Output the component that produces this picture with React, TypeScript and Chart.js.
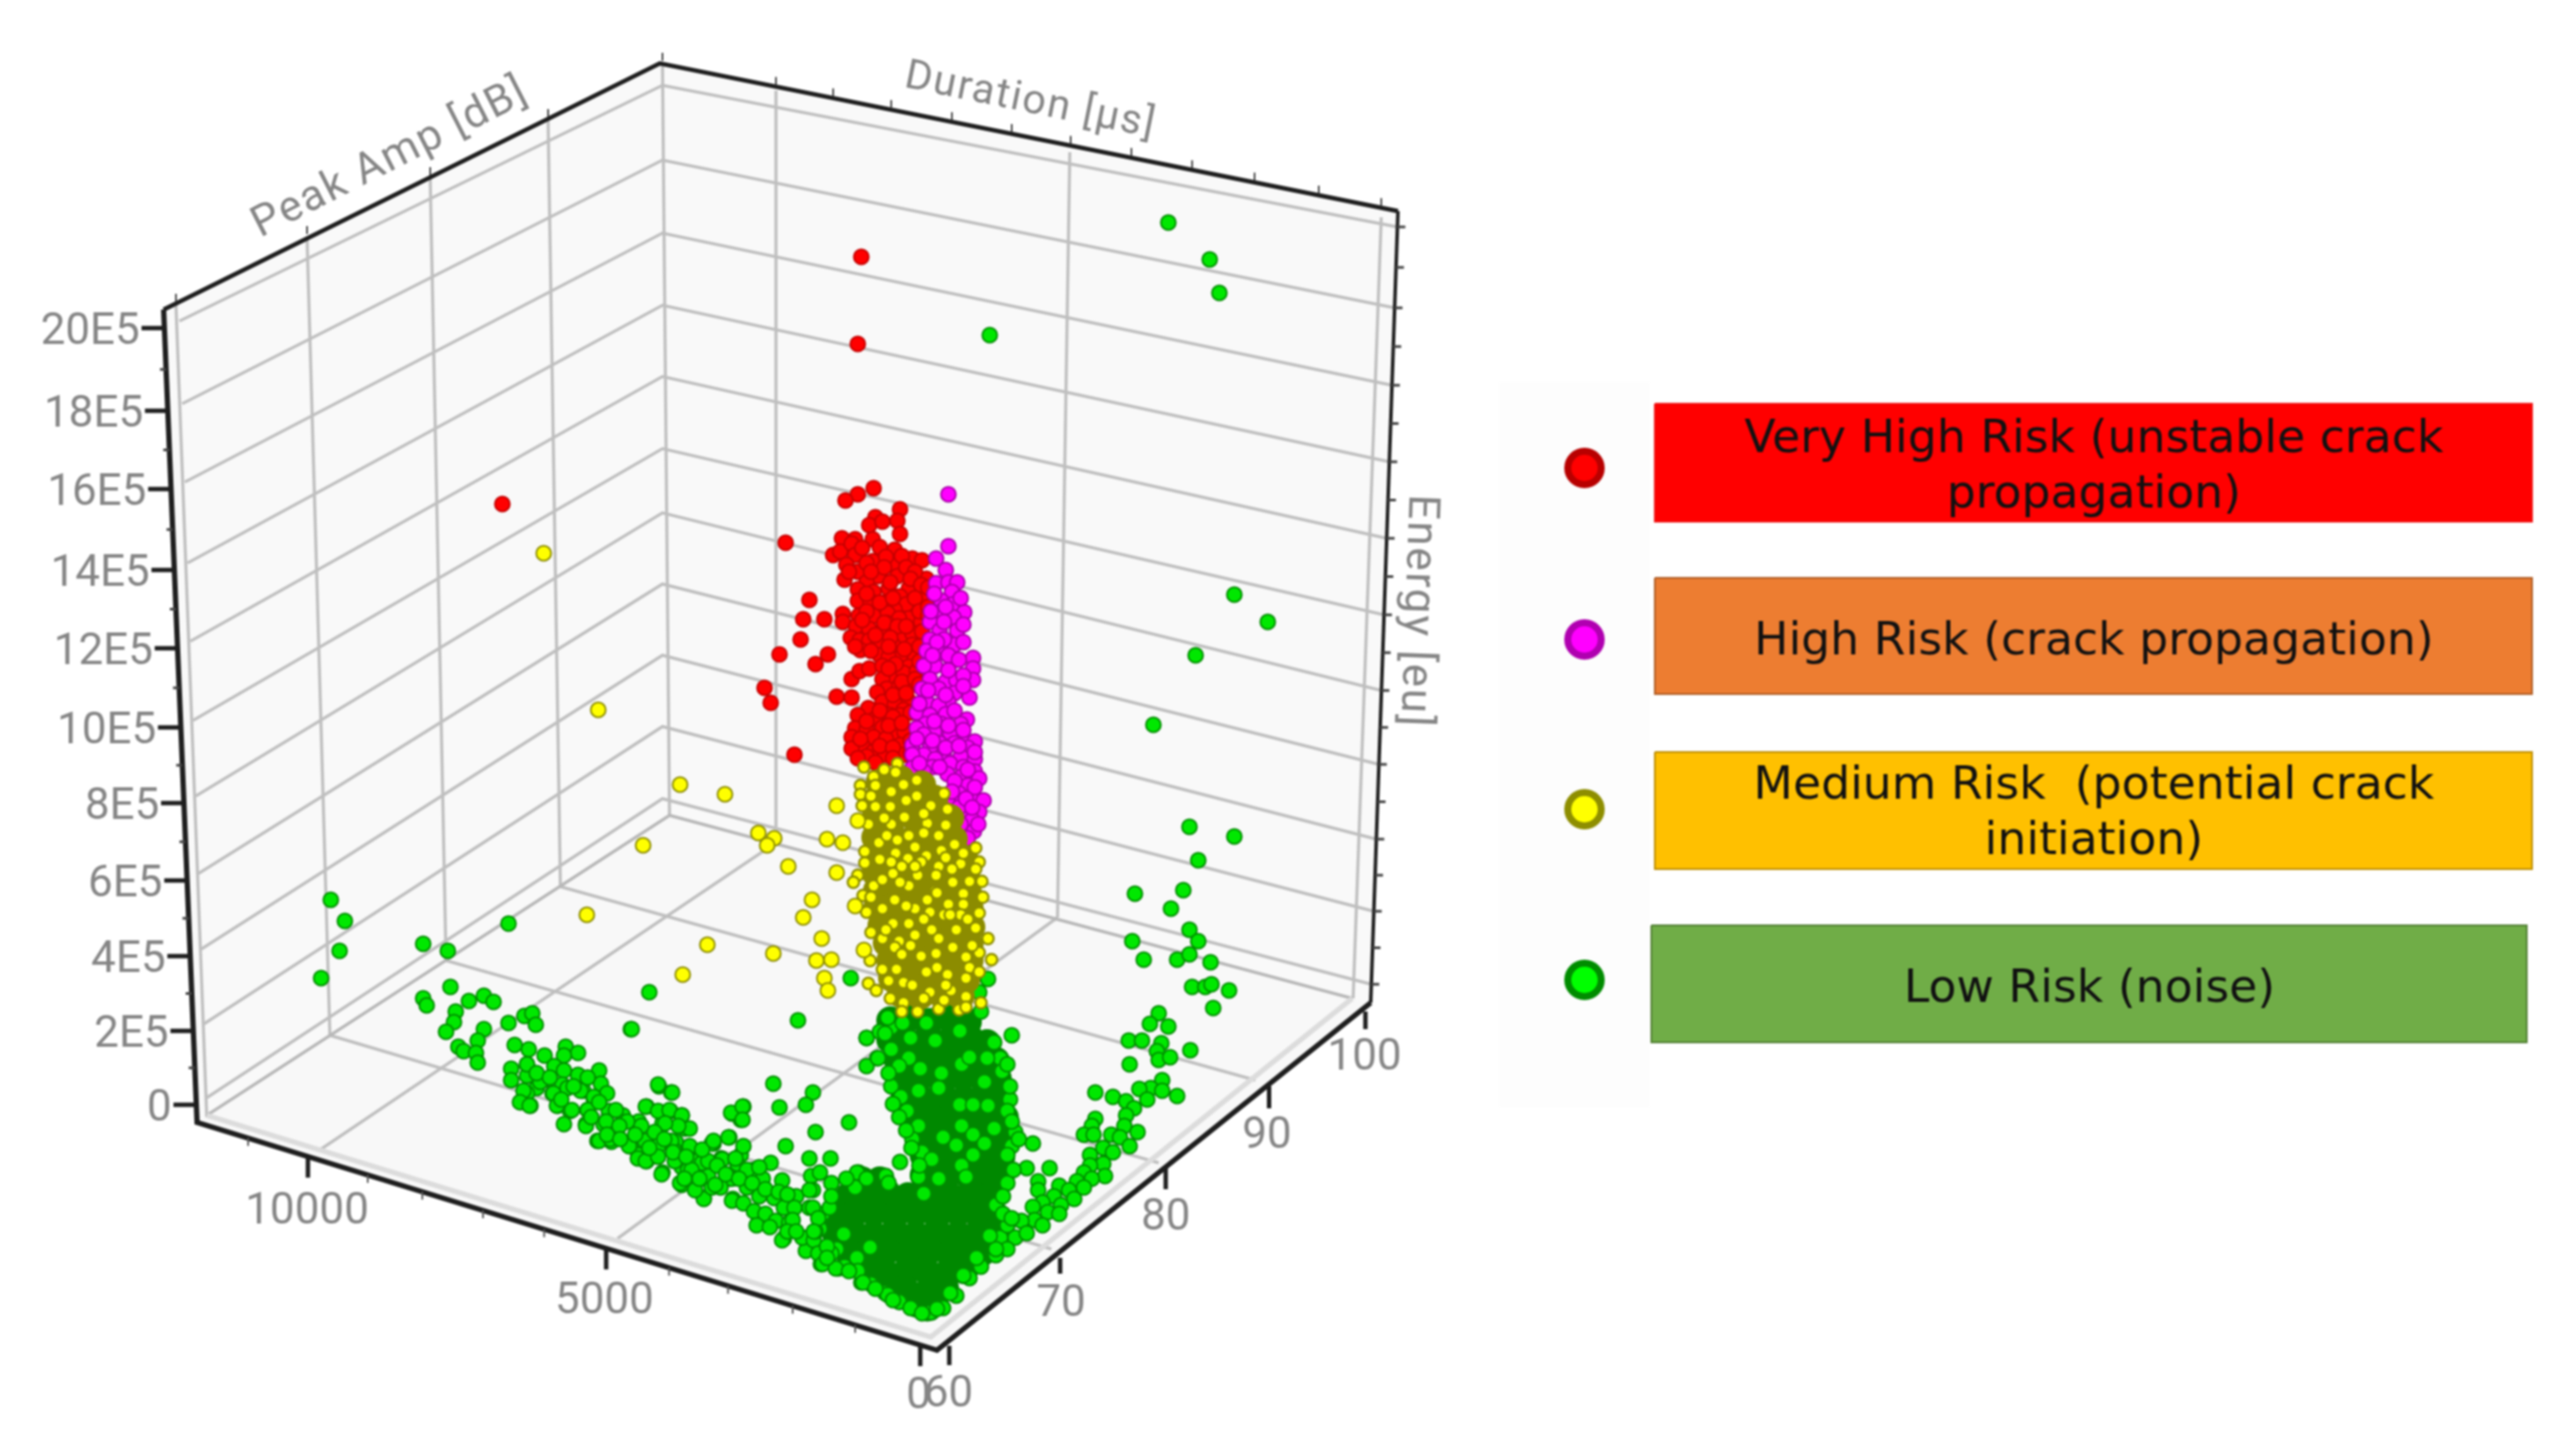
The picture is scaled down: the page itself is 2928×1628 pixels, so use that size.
import React, { useEffect, useRef } from "react";
import { Chart, registerables } from "chart.js";

Chart.register(...registerables);

const W = 2928;
const H = 1628;

// Scatter values on the projected plane of the 3D view (x, y pairs).
const veryHighRisk = [979,292,975,391,571,573,993,555,975,562,961,569,893,617,920,682,913,704,937,704,958,698,958,707,910,727,886,744,941,744,927,755,869,782,876,799,968,772,977,763,988,760,951,792,968,793,903,858,
1023,579,1020,592,995,588,988,597,1003,593,1023,607,957,612,972,613,992,613,947,631,955,627,968,618,1000,622,1017,625,972,631,992,638,962,642,1017,642,1037,635,1048,637,1025,632,980,623,1007,633,960,659,975,650,998,655,1020,655,1053,658,985,662,975,670,1010,669,1033,669,993,673,1052,678,1023,678,975,683,989,683,1006,685,1043,693,1030,687,1017,693,976,700,993,700,1009,697,1033,703,1022,703,1047,707,973,712,988,715,1008,708,1000,720,1023,724,1037,720,967,725,977,728,988,728,1007,722,998,732,1015,733,1037,733,978,739,1000,745,1023,748,1040,748,1010,747,1003,757,1033,758,1015,768,1027,765,1042,763,1003,772,1008,783,1022,780,1035,778,997,787,1003,798,1017,800,1033,797,987,805,1027,807,975,813,995,817,1012,813,1023,813,972,828,985,830,1003,827,1017,837,1028,832,968,838,993,838,1007,840,980,847,1023,847,968,851,992,855,1006,858,1027,858,985,860,995,867,
985,640,1005,645,1030,645,965,650,990,650,1040,650,1012,662,1035,658,1047,665,985,675,1000,685,1015,680,1040,680,1055,668,985,695,1005,708,1020,712,1045,695,1055,690,1055,700,980,705,995,722,1012,725,1030,712,1048,718,972,735,990,740,1010,735,1028,738,1045,735,1018,755,1045,752,1010,760,1025,775,1040,772,1015,790,1030,788,1045,778,1000,808,1015,815,1035,810,985,820,1010,825,1025,822,978,840,1000,848,1015,850,1035,842,975,862,1015,862,1035,856];

const highRisk = [1078,562,1078,621,1064,635,1075,648,1064,663,1078,662,1088,662,1082,673,1070,683,1083,687,1096,696,1070,695,1057,707,1084,702,1068,717,1088,717,1073,707,1057,727,1085,733,1067,742,1082,752,1053,740,1073,727,1063,757,1050,757,1106,748,1106,760,1106,773,1075,775,1057,772,1087,773,1067,783,1102,793,1048,783,1085,788,1053,797,1078,798,1067,802,1042,810,1075,812,1057,813,1099,818,1092,823,1070,823,1052,823,1042,828,1062,832,1093,837,1080,833,1050,835,1108,843,1068,845,1085,845,1037,847,1057,850,1100,850,1050,858,1073,858,1037,858,1063,863,1092,860,1108,863,1080,868,1095,872,1060,872,1037,873,1050,877,1108,877,1077,880,1113,885,1093,883,1100,893,1090,902,1105,905,1118,910,1077,912,1098,920,1113,923,1090,918,1105,932,1092,937,1107,945,1100,953,1112,937,
1062,675,1075,690,1092,680,1058,695,1095,710,1065,730,1060,745,1078,745,1095,730,1090,750,1078,762,1095,768,1055,785,1075,790,1095,780,1045,800,1062,820,1085,808,1042,840,1060,842,1078,825,1095,830,1075,850,1108,855,1090,848,1045,868,1068,872,1085,888,1100,875,1108,895,1098,908,1082,900,1105,918];

const mediumRiskDense = [1000,890,1024,886,1048,892,995,910,1014,908,1038,912,1062,908,995,930,1014,932,1038,928,1062,932,1080,930,995,952,1014,950,1038,954,1062,950,1084,954,995,972,1014,974,1038,970,1062,974,1086,970,1096,976,995,992,1014,990,1038,994,1062,990,1086,994,1098,992,997,1012,1016,1014,1040,1010,1064,1014,1088,1010,1100,1014,997,1032,1016,1030,1040,1034,1064,1030,1088,1034,1102,1032,1002,1052,1022,1054,1046,1050,1070,1054,1094,1050,1104,1054,1008,1072,1030,1070,1054,1074,1078,1070,1102,1074,1012,1092,1034,1094,1058,1090,1082,1094,1102,1092,1014,1112,1036,1110,1060,1114,1084,1110,1098,1114,1024,1130,1046,1132,1070,1130,1092,1132];

const mediumRiskOutliers = [618,629,680,807,951,916,940,954,958,958,975,933,880,953,872,961,862,947,896,985,951,992,923,1023,913,1043,934,1067,879,1084,928,1092,945,1091,937,1112,941,1126,982,1080,972,1030,773,892,824,903,731,961,667,1040,804,1074,776,1108];

const mediumRisk = [982,872,1005,875,1020,868,1018,878,993,883,978,893,978,903,995,893,1013,900,1042,887,1027,892,980,916,995,917,1012,917,1042,905,1058,916,1073,902,1077,920,1028,929,987,937,1013,937,1054,936,1075,938,999,958,1050,947,1033,950,1067,950,1085,960,1109,964,983,968,1018,970,1070,967,1032,976,1000,977,983,981,1053,973,1092,982,1113,980,1067,985,1109,988,1082,988,975,995,1015,993,1043,995,1064,995,970,1003,1102,1002,1116,1002,993,1007,1063,1013,1033,1007,1095,1016,981,1018,1017,1023,1054,1023,1078,1028,1095,1028,985,1037,1040,1033,1003,1033,1092,1040,1073,1040,1113,1038,990,1060,1015,1050,1059,1057,1109,1055,1003,1067,1022,1070,1123,1067,1040,1063,1083,1077,1064,1084,1098,1088,1113,1083,989,1092,1127,1091,1019,1102,1003,1102,1102,1100,1053,1105,1113,1105,1077,1108,987,1118,1098,1112,996,1126,1057,1128,1081,1126,1027,1117,1012,1135,1098,1133,1043,1150,1115,1140,1090,1148,1027,1140,1067,1147,1073,1137,1037,1120,1007,1057,1047,1087,1017,1077,1087,1057,1067,1067,1057,1037,1033,1050,1003,1000,1023,1003,1083,1003,1047,980,1008,950,1013,980,1040,963,
990,905,1005,930,1030,910,1050,925,1020,955,1040,985,1075,975,1095,970,1025,985,990,1020,1030,1030,1065,1015,1080,1040,1100,1045,1050,1045,1025,1085,1065,1100,1010,1115,1050,1135,1075,1120,1105,1075,1035,1075,1117,1020,1025,1150,1098,1145];

const lowRiskDense = [1012,1160,1032,1158,1056,1162,1080,1158,1100,1162,1012,1182,1030,1184,1054,1180,1078,1184,1102,1180,1122,1186,1020,1204,1040,1206,1064,1202,1088,1206,1112,1202,1132,1206,1024,1226,1046,1224,1070,1228,1094,1224,1118,1228,1134,1226,1028,1248,1048,1250,1072,1246,1096,1250,1120,1246,1136,1250,1036,1270,1056,1268,1080,1272,1104,1268,1128,1272,1142,1270,1044,1292,1064,1294,1088,1290,1112,1294,1136,1290,1146,1294,1050,1314,1070,1312,1094,1316,1118,1312,1138,1316,980,1342,1000,1342,1050,1336,1074,1338,1098,1334,1122,1338,1138,1336,965,1360,984,1360,1008,1356,1032,1360,1056,1356,1080,1360,1104,1356,1125,1360,950,1380,969,1382,993,1378,1017,1382,1041,1378,1065,1382,1089,1378,1113,1382,1130,1380,950,1402,969,1400,993,1404,1017,1400,1041,1404,1065,1400,1089,1404,1113,1400,1130,1402,965,1424,984,1426,1008,1422,1032,1426,1056,1422,1080,1426,1104,1422,1116,1424,985,1444,1004,1444,1028,1448,1052,1444,1076,1448,1096,1444,1012,1464,1029,1466,1053,1470,1074,1464,1042,1482,1060,1480];

const lowRisk = [1328,253,1375,295,1386,333,1125,381,1403,676,1441,707,1359,745,1311,824,1352,940,1403,951,1362,978,1290,1016,1345,1012,1331,1033,1352,1057,1362,1070,1287,1070,1300,1091,1338,1091,1352,1085,1376,1094,1355,1122,1370,1122,1377,1119,1397,1126,1379,1146,1317,1152,1307,1164,1328,1167,1283,1183,1298,1183,1320,1186,1315,1195,1353,1194,
1317,1205,1330,1202,1284,1210,1321,1228,1308,1237,1295,1238,1321,1240,1338,1246,1245,1242,1265,1247,1280,1252,1304,1250,1289,1260,1280,1268,1245,1272,1278,1280,1293,1287,1241,1280,1263,1290,1232,1290,1243,1290,1273,1293,1284,1303,1254,1305,1265,1310,1239,1313,1254,1323,1239,1325,1232,1333,1256,1337,1241,1340,1224,1343,1204,1348,1180,1343,1193,1328,1167,1328,1174,1300,1150,1177,1180,1353,1232,1350,1215,1353,1198,1360,1221,1363,1185,1367,1206,1370,1174,1372,1191,1378,1204,1380,1176,1387,1161,1388,1185,1393,1154,1407,1167,1402,1137,1407,1145,1420,1132,1427,1115,1440,1102,1453,1087,1473,1072,1487,1059,1492,
717,1170,907,1160,879,1232,924,1242,886,1259,916,1256,965,1276,927,1287,893,1303,920,1317,944,1317,1023,1321,1044,1338,832,1266,845,1258,842,1273,749,1235,763,1242,922,1337,932,1333,945,1345,924,1353,976,1333,1006,1337,985,1180,997,1203,985,1212,1014,1235,
376,1023,392,1047,386,1081,365,1112,481,1073,509,1081,578,1050,738,1128,718,1170,512,1122,481,1135,485,1143,533,1138,550,1132,561,1139,518,1150,516,1162,507,1173,550,1170,543,1183,521,1190,527,1195,541,1197,543,1208,578,1163,596,1155,605,1152,609,1165,585,1188,601,1193,619,1200,643,1190,657,1197,641,1200,581,1215,581,1228,599,1210,630,1212,657,1222,599,1223,619,1227,641,1217,681,1217,610,1237,639,1233,683,1232,599,1243,592,1253,603,1257,628,1243,663,1240,690,1243,634,1257,675,1250,648,1263,668,1262,641,1278,666,1278,692,1263,748,1233,764,1242,708,1268,686,1278,735,1258,762,1263,831,1265,844,1258,844,1273,775,1268,726,1275,753,1277,779,1283,679,1297,695,1298,717,1303,744,1293,768,1298,735,1320,726,1313,753,1333,766,1307,784,1305,811,1300,829,1293,775,1327,793,1320,820,1317,842,1313,775,1347,802,1340,829,1340,800,1362,833,1363,
752,1335,800,1363,790,1353,809,1350,805,1337,782,1330,798,1322,784,1303,809,1300,828,1293,845,1303,821,1318,838,1323,832,1340,819,1350,832,1365,845,1368,857,1330,876,1322,867,1340,889,1342,849,1350,863,1360,880,1362,857,1377,870,1380,891,1373,905,1360,920,1353,903,1373,920,1373,882,1388,897,1390,891,1408,914,1407,916,1422,932,1397,933,1437,953,1442,979,1458,1006,1470,1023,1480,1054,1493,935,1380,951,1420,974,1430,
599,1210,614,1230,629,1243,645,1237,660,1240,675,1247,595,1240,591,1253,602,1257,633,1257,650,1262,668,1262,666,1280,681,1253,700,1262,713,1275,689,1275,681,1297,694,1295,704,1280,715,1303,725,1317,734,1320,733,1297,734,1258,748,1263,761,1262,775,1268,784,1283,771,1280,756,1277,744,1287,729,1280,748,1303,763,1297,748,1315,767,1320,773,1345,813,1347,786,1330,805,1320,798,1307,811,1297,836,1317,849,1330,863,1327,901,1387,889,1410,912,1407,924,1373,943,1373,
610,1220,625,1225,638,1250,652,1235,668,1225,672,1270,690,1290,705,1295,722,1290,738,1305,755,1295,765,1310,780,1315,795,1340,778,1340,815,1325,825,1335,840,1340,855,1345,870,1352,885,1355,895,1358,860,1393,875,1395,895,1400,905,1400,925,1410,930,1425,945,1425,960,1440,975,1445,990,1460,
985,1180,1000,1173,1013,1168,1009,1157,1026,1163,1054,1162,1091,1172,1035,1180,1063,1183,1013,1193,1033,1203,998,1203,1022,1212,1046,1215,1070,1220,1093,1210,1137,1203,1102,1202,1122,1203,1139,1218,1013,1235,1044,1240,1024,1247,1119,1230,1067,1237,1091,1256,1106,1256,1123,1257,1031,1263,1148,1250,1145,1263,1093,1280,1130,1283,1044,1280,1154,1287,1072,1293,1106,1290,1037,1295,1087,1302,1119,1300,1150,1303,1048,1310,1059,1318,1106,1313,1093,1325,1145,1313,1098,1338,1145,1345,974,1333,1007,1337,972,1350,1067,1340,1132,1370,1050,1357,
935,1437,950,1442,981,1458,1009,1472,1022,1480,1035,1487,1058,1492,1048,1493,927,1400,940,1417,959,1403,989,1418,1145,1393,1132,1420,967,1112,1113,1128,1123,1113,1053,1163,
1006,1175,1010,1220,1015,1255,1022,1270,1030,1285,1036,1305,1045,1325,1115,1150,1130,1185,1145,1210,1148,1235,1150,1275,1158,1295,1152,1330,1140,1360,962,1340,985,1340,1010,1345,945,1360,930,1385,925,1400,940,1430,965,1445,995,1465,1015,1478,1140,1380,1125,1405,1110,1430,1095,1450,1080,1470,1065,1488,1150,1385];

// Axis values and labels
const energyLabels = ["0", "2E5", "4E5", "6E5", "8E5", "10E5", "12E5", "14E5", "16E5", "18E5", "20E5"];
const durationLabels = ["0", "5000", "10000"];
const ampLabels = ["60", "70", "80", "90", "100"];
const legendNames = [
  ["Very High Risk (unstable crack", "propagation)"],
  ["High Risk (crack propagation)"],
  ["Medium Risk  (potential crack", "initiation)"],
  ["Low Risk (noise)"],
];

// Geometry of the 3D box on the projected plane
const energyTickY = [1256, 1172, 1087, 1001, 913, 827, 737, 648, 556, 467, 373];
const wallLeftY = [1248, 1164, 1079, 993, 905, 819, 729, 640, 548, 459, 365];
const wallBackY = [908, 826, 745, 664, 583, 510, 428, 347, 265, 182, 97];
const wallRightY = [1119, 1036, 954, 869, 785, 699, 612, 525, 438, 350, 258];
const leftVerticals = [[200, 347, 235, 1270], [349, 270, 375, 1177], [489, 203, 507, 1092], [623, 137, 637, 1008], [753, 73, 761, 927]];
const rightVerticals = [[882, 103, 882, 940], [1216, 173, 1202, 1043], [1570, 247, 1538, 1135]];
const floorLines = [[375, 1177, 1195, 1420], [507, 1092, 1317, 1322], [637, 1008, 1427, 1228], [702, 1408, 1202, 1043], [364, 1307, 882, 958]];
const durationTopTicks = [882, 947, 1013, 1082, 1150, 1217, 1286, 1355, 1426, 1499, 1570];
const durationBottomTicks = [1046, 972, 901, 827.5, 760.5, 689, 618.5, 549, 480, 418, 350, 282];
const ampBottomTicks = [[1079, 1530, 1552], [1205, 1430, 1448], [1325, 1327, 1352], [1442.5, 1235, 1260], [1552, 1150, 1170]];

const toPoints = (flat: number[]) => {
  const out: { x: number; y: number }[] = [];
  for (let i = 0; i < flat.length; i += 2) out.push({ x: flat[i], y: flat[i + 1] });
  return out;
};

const boxPlugin = {
  id: "box3d",
  beforeDatasetsDraw(chart: any) {
    const { ctx, scales } = chart;
    const px = (x: number) => scales.x.getPixelForValue(x);
    const py = (y: number) => scales.y.getPixelForValue(y);
    const poly = (pts: number[][], fill: string) => {
      ctx.beginPath();
      pts.forEach((p, i) => (i ? ctx.lineTo(px(p[0]), py(p[1])) : ctx.moveTo(px(p[0]), py(p[1]))));
      ctx.closePath();
      ctx.fillStyle = fill;
      ctx.fill();
    };
    const line = (pts: number[][], color: string, width: number) => {
      ctx.beginPath();
      pts.forEach((p, i) => (i ? ctx.lineTo(px(p[0]), py(p[1])) : ctx.moveTo(px(p[0]), py(p[1]))));
      ctx.strokeStyle = color;
      ctx.lineWidth = width;
      ctx.lineJoin = "miter";
      ctx.stroke();
    };
    const text = (s: string, x: number, y: number, font: string, color: string, align: any = "center", rot = 0, spacing = "0px") => {
      ctx.save();
      ctx.translate(px(x), py(y));
      ctx.rotate((rot * Math.PI) / 180);
      ctx.font = font;
      ctx.fillStyle = color;
      ctx.textAlign = align;
      ctx.textBaseline = "middle";
      ctx.letterSpacing = spacing;
      ctx.fillText(s, 0, 0);
      ctx.restore();
    };

    // walls and floor
    poly([[186, 352], [750, 72], [761, 927], [224, 1276]], "#f9f9f9");
    poly([[750, 72], [1589, 240], [1558, 1140], [761, 927]], "#f9f9f9");
    poly([[224, 1276], [761, 927], [1558, 1140], [1065, 1535]], "#f8f8f8");

    const GRID = "#bfbfbf";
    // energy grid lines on both walls
    energyLabels.forEach((_, i) => {
      const t = i / 10;
      const lx = 235 - 31 * t;
      const ry = wallRightY[i];
      const rx = 1558 + ((1140 - ry) * 31) / 900;
      line([[lx, wallLeftY[i]], [753, wallBackY[i]], [rx, ry]], GRID, 3.5);
    });
    leftVerticals.forEach((v) => line([[v[0], v[1]], [v[2], v[3]]], GRID, 3.5));
    rightVerticals.forEach((v) => line([[v[0], v[1]], [v[2], v[3]]], GRID, 3.5));
    floorLines.forEach((v) => line([[v[0], v[1]], [v[2], v[3]]], GRID, 3.5));
    // floor border
    line([[235, 1268], [761, 927], [1537, 1135]], "#b8b8b8", 3.5);
    line([[235, 1268], [1058, 1520], [1537, 1135]], "#dcdcdc", 6);

    // black frame
    line([[186, 352], [750, 72], [1589, 240]], "#1e1e1e", 5);
    line([[1589, 240], [1558, 1140]], "#1e1e1e", 4);
    line([[186, 352], [224, 1276], [1065, 1535], [1558, 1140]], "#1e1e1e", 6);

    // energy ticks
    const axisX = (y: number) => 186 + ((y - 352) * 38) / 924;
    energyTickY.forEach((y, i) => {
      line([[axisX(y) - 26, y], [axisX(y), y]], "#1e1e1e", 5);
      text(energyLabels[i], axisX(y) - 28, y + 5, "50px Roboto", "#858585", "right");
      if (i < 10) {
        const m = (y + energyTickY[i + 1]) / 2;
        line([[axisX(m) - 7, m], [axisX(m), m]], "#444444", 3);
      }
    });
    // right-edge ticks
    wallRightY.forEach((y, i) => {
      const x = 1558 + ((1140 - y) * 31) / 900;
      line([[x, y], [x + 9, y]], "#444444", 3);
      if (i < 10) {
        const m = (y + wallRightY[i + 1]) / 2;
        const xm = 1558 + ((1140 - m) * 31) / 900;
        line([[xm, m], [xm + 9, m]], "#444444", 3);
      }
    });
    // ticks above the top edges
    leftVerticals.forEach((v) => line([[v[0], v[1] - 4], [v[0], v[1] - 13]], "#444444", 2));
    durationTopTicks.forEach((x) => {
      const y = 72 + ((x - 750) * 168) / 839;
      line([[x, y - 2], [x, y - 11]], "#444444", 2);
    });
    // ticks under the bottom edges
    durationBottomTicks.forEach((x, i) => {
      const y = 1276 + ((x - 224) * 259) / 841;
      const major = i === 0 || i === 5 || i === 10;
      line([[x, y], [x, y + (major ? 24 : 9)]], major ? "#1e1e1e" : "#555555", major ? 5 : 2);
    });
    ampBottomTicks.forEach((t) => line([[t[0], t[1]], [t[0], t[2]]], "#1e1e1e", 5));

    // tick labels
    const durPos = [[1044, 1588], [687, 1480], [349, 1378]];
    durationLabels.forEach((s, i) => text(s, durPos[i][0], durPos[i][1], "50px Roboto", "#858585"));
    const ampPos = [[1078, 1586], [1206, 1483], [1325, 1385], [1440, 1292], [1551, 1203]];
    ampLabels.forEach((s, i) => text(s, ampPos[i][0], ampPos[i][1], "50px Roboto", "#858585"));

    // axis titles
    text("Peak Amp [dB]", 444, 181, "49px Roboto", "#858585", "center", -27, "2px");
    text("Duration [µs]", 1171, 116, "47px Roboto", "#858585", "center", 11.5, "2px");
    text("Energy [eu]", 1610, 695, "50px Roboto", "#858585", "center", 92, "2px");

    // legend
    poly([[1704, 434], [1875, 434], [1875, 1259], [1704, 1259]], "#fdfdfd");
    const rects = [
      [1881, 459, 2878, 593, "#ff0000", "#f01010", [500, 563], 2380],
      [1881, 657, 2878, 789, "#ed7d31", "#ae5a21", [730], 2380],
      [1881, 855, 2878, 988, "#ffc000", "#bc8c00", [894, 957], 2380],
      [1877, 1052, 2872, 1185, "#70ad47", "#507e32", [1125], 2375],
    ] as any[];
    const dotY = [532, 727, 920, 1114];
    const dotFill = ["#ff0000", "#ff00ff", "#ffff00", "#00ff00"];
    const dotEdge = ["#b80000", "#b000b0", "#8e8e00", "#008c00"];
    rects.forEach((r, i) => {
      poly([[r[0], r[1]], [r[2], r[1]], [r[2], r[3]], [r[0], r[3]]], r[4]);
      line([[r[0], r[1]], [r[2], r[1]], [r[2], r[3]], [r[0], r[3]], [r[0], r[1]]], r[5], 2);
      legendNames[i].forEach((s, j) => text(s, r[7], r[6][j], "52px 'DejaVu Sans'", "#111111"));
      ctx.beginPath();
      ctx.arc(px(1801), py(dotY[i]), 19, 0, Math.PI * 2);
      ctx.fillStyle = dotFill[i];
      ctx.fill();
      ctx.lineWidth = 8;
      ctx.strokeStyle = dotEdge[i];
      ctx.stroke();
    });
  },
};

const series = (label: string, flat: number[], fill: string, edge: string, order: number, radius = 8.5, width = 2) => ({
  label,
  data: toPoints(flat),
  backgroundColor: fill,
  borderColor: edge,
  borderWidth: width,
  pointRadius: radius,
  order,
});

export default function App() {
  const ref = useRef<HTMLCanvasElement>(null);
  useEffect(() => {
    document.body.style.background = "#ffffff";
    const chart = new Chart(ref.current as HTMLCanvasElement, {
      type: "scatter",
      data: {
        datasets: [
          series("Medium Risk outliers", mediumRiskOutliers, "#ffff00", "#8c8c00", 0),
          series("Medium Risk", mediumRisk, "#ffff00", "#8c8c00", 1, 6.5, 2.5),
          series("Medium Risk dense", mediumRiskDense, "#8c8c00", "#8c8c00", 2, 16, 0),
          series("High Risk", highRisk, "#ff00ff", "#a800a8", 3),
          series("Very High Risk", veryHighRisk, "#ff0000", "#c40000", 4),
          series("Low Risk", lowRisk, "#00e800", "#008c00", 5),
          series("Low Risk dense", lowRiskDense, "#008800", "#008800", 6, 16, 0),
        ],
      },
      options: {
        responsive: false,
        animation: false,
        devicePixelRatio: 1,
        layout: { padding: 0, autoPadding: false },
        plugins: { legend: { display: false }, tooltip: { enabled: false }, title: { display: false } },
        scales: {
          x: { type: "linear", min: 0, max: W, display: false },
          y: { type: "linear", min: 0, max: H, reverse: true, display: false },
        },
      } as any,
      plugins: [boxPlugin],
    });
    return () => chart.destroy();
  }, []);
  return (
    <div style={{ position: "fixed", left: 0, top: 0, width: W, height: H, background: "#ffffff" }}>
      <canvas ref={ref} width={W} height={H} style={{ display: "block", filter: "blur(1px)" }} />
    </div>
  );
}
